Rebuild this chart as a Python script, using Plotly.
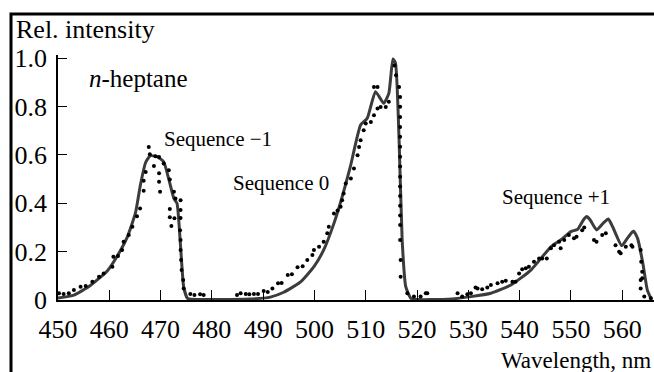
import plotly.graph_objects as go

# Solid curve (calculated spectrum)
fit_wl = [450.0, 453.1, 456.3, 459.6, 461.5, 463.5, 465.1, 466.1, 467.1, 468.0, 469.3, 470.6,
          471.6, 472.6, 473.2, 473.9, 474.5, 475.2, 476.0, 480.0, 487.5, 491.4, 494.0, 497.3,
          499.9, 501.8, 503.8, 505.4, 507.0, 509.0, 510.3, 511.9, 513.5, 514.5, 515.3, 515.8,
          516.5, 517.1, 517.8, 518.8, 520.0, 526.0, 530.5, 534.4, 538.3, 542.2, 546.1, 548.0,
          550.0, 551.3, 552.4, 553.1, 553.8, 555.0, 556.4, 557.3, 558.2, 559.9, 561.0, 562.2,
          563.0, 564.0, 564.9, 565.6]
fit_int = [0.008, 0.02, 0.06, 0.12, 0.18, 0.26, 0.36, 0.48, 0.57, 0.597, 0.593, 0.572,
           0.50, 0.42, 0.40, 0.22, 0.055, 0.008, 0.003, 0.002, 0.004, 0.012, 0.032, 0.075,
           0.138, 0.207, 0.317, 0.427, 0.552, 0.724, 0.752, 0.862, 0.814, 0.855, 0.997, 0.98,
           0.662, 0.248, 0.055, 0.007, 0.002, 0.003, 0.014, 0.028, 0.062, 0.124, 0.22, 0.248,
           0.283, 0.292, 0.33, 0.345, 0.33, 0.29, 0.32, 0.335, 0.30, 0.225, 0.255, 0.285,
           0.255, 0.155, 0.041, 0.007]

# Dotted points (measured spectrum)
exp_wl = [450.2, 451.1, 452.1, 453.1, 454.4, 455.4, 456.7, 458.0, 458.9, 460.6, 460.8, 461.7,
          462.5, 462.8, 463.8, 464.5, 465.4, 466.0, 466.7, 466.7, 467.1, 467.7, 467.9, 469.0,
          469.7, 468.7, 469.7, 469.7, 469.9, 470.6, 471.6, 471.8, 471.8, 471.8, 472.1, 472.6,
          472.9, 472.7, 473.9, 473.9, 473.9, 473.8, 473.9, 473.9, 474.0, 474.1, 474.4, 474.5,
          475.8, 476.6, 477.7, 478.4,
          484.9, 485.6, 486.6, 487.3, 488.2, 489.0, 490.1, 490.9, 491.8, 492.9, 493.6, 494.8,
          495.6, 496.7, 497.7, 498.6, 499.6, 499.9, 500.9, 501.8, 502.5, 502.8, 503.8, 504.5,
          505.1, 505.4, 505.7, 506.1, 507.1, 507.7, 508.4, 508.7, 509.0, 509.6, 510.0, 511.0,
          511.6, 512.3, 511.6, 512.3, 512.9, 513.9, 514.5, 515.6, 515.9, 516.5, 516.7, 516.7,
          516.7, 516.7, 516.7, 516.7, 516.7, 516.7, 516.7, 516.7, 516.7, 516.7, 516.7, 516.7,
          516.7, 516.8, 516.8, 518.1, 519.4, 520.7, 521.7, 522.0,
          527.9, 528.8, 529.8, 530.5, 531.4, 531.8, 532.7, 533.7, 534.4, 535.7, 536.6, 537.3,
          538.6, 539.2, 539.9, 540.5, 541.2, 541.8, 542.8, 543.8, 544.4, 545.3, 546.1, 546.7,
          547.7, 548.0, 548.7, 549.6, 550.6, 551.1, 552.2, 552.6, 554.5, 555.0, 556.1, 556.8,
          558.7, 559.4, 559.7, 560.7, 561.8, 562.0, 563.6, 563.7, 563.9, 563.6, 563.9, 563.6,
          564.3, 565.6]
exp_int = [0.028, 0.025, 0.028, 0.041, 0.055, 0.058, 0.076, 0.096, 0.11, 0.138, 0.179, 0.182,
           0.207, 0.241, 0.269, 0.303, 0.347, 0.379, 0.452, 0.493, 0.53, 0.633, 0.603, 0.595,
           0.592, 0.554, 0.524, 0.489, 0.448, 0.565, 0.537, 0.499, 0.376, 0.342, 0.306, 0.448,
           0.42, 0.338, 0.413, 0.372, 0.339, 0.289, 0.248, 0.207, 0.165, 0.124, 0.083, 0.048,
           0.025, 0.021, 0.024, 0.021,
           0.021, 0.028, 0.025, 0.024, 0.025, 0.025, 0.037, 0.033, 0.048, 0.069, 0.07, 0.103,
           0.107, 0.135, 0.14, 0.165, 0.186, 0.207, 0.22, 0.241, 0.276, 0.303, 0.358, 0.37,
           0.386, 0.413, 0.441, 0.482, 0.503, 0.544, 0.599, 0.633, 0.661, 0.702, 0.73, 0.737,
           0.764, 0.792, 0.881, 0.881, 0.799, 0.799, 0.82, 0.97, 0.93, 0.881, 0.84, 0.80,
           0.757, 0.716, 0.675, 0.634, 0.593, 0.552, 0.51, 0.47, 0.43, 0.39, 0.35, 0.31,
           0.248, 0.165, 0.096, 0.028, 0.014, 0.014, 0.028, 0.028,
           0.028, 0.014, 0.024, 0.028, 0.052, 0.048, 0.044, 0.052, 0.062, 0.069, 0.076, 0.08,
           0.076, 0.076, 0.11, 0.127, 0.131, 0.138, 0.158, 0.172, 0.172, 0.172, 0.214, 0.227,
           0.241, 0.214, 0.248, 0.269, 0.255, 0.262, 0.289, 0.30, 0.248, 0.241, 0.269, 0.276,
           0.227, 0.20, 0.193, 0.22, 0.227, 0.22, 0.207, 0.158, 0.117, 0.083, 0.09, 0.048,
           0.014, 0.007]

x_ticks = [450, 460, 470, 480, 490, 500, 510, 520, 530, 540, 550, 560]
y_ticks = [0, 0.2, 0.4, 0.6, 0.8, 1.0]
y_tick_text = ["0", "0.2", "0.4", "0.6", "0.8", "1.0"]

SERIF = "Liberation Serif, Times New Roman, serif"

fig = go.Figure()
fig.add_trace(go.Scatter(x=fit_wl, y=fit_int, mode="lines",
                         line=dict(color="#3c3c3c", width=3, shape="spline", smoothing=0.5),
                         showlegend=False))
fig.add_trace(go.Scatter(x=exp_wl, y=exp_int, mode="markers",
                         marker=dict(color="black", size=4), showlegend=False))

L, T, W, H = 58, 55, 654, 372
B = 72
pw, ph = W - L, H - T - B

fig.update_layout(
    width=W, height=H,
    margin=dict(l=L, r=0, t=T, b=B),
    paper_bgcolor="white", plot_bgcolor="white",
    font=dict(family=SERIF, color="black", size=26),
    xaxis=dict(range=[450, 566.2], tickvals=x_ticks, ticks="inside", ticklen=10,
               tickwidth=1.2, tickcolor="black", showline=True, linecolor="black",
               linewidth=1.5, showgrid=False, zeroline=False, ticklabelstandoff=5,
               tickfont=dict(family=SERIF, size=26, color="black")),
    yaxis=dict(range=[0, 1.0137], tickvals=y_ticks, ticktext=y_tick_text,
               ticks="inside", ticklen=9, tickwidth=1.2, tickcolor="black",
               showline=True, linecolor="black", linewidth=1.5, showgrid=False,
               zeroline=False, ticklabelstandoff=4,
               tickfont=dict(family=SERIF, size=26, color="black")),
)

def px2paper(px, py):
    return (px - L) / pw, (H - B - py) / ph

ann = [
    dict(text="Rel. intensity", px=14, py=29, xa="left", size=26),
    dict(text="<i>n</i>-heptane", px=87, py=78, xa="left", size=25),
    dict(text="Sequence −1", px=162, py=139, xa="left", size=21),
    dict(text="Sequence 0", px=231, py=183, xa="left", size=21),
    dict(text="Sequence +1", px=500, py=197, xa="left", size=21),
    dict(text="Wavelength, nm", px=653, py=360, xa="right", size=23),
]
for a in ann:
    xp, yp = px2paper(a["px"], a["py"])
    fig.add_annotation(text=a["text"], x=xp, y=yp, xref="paper", yref="paper",
                       xanchor=a["xa"], yanchor="middle", showarrow=False,
                       font=dict(family=SERIF, size=a["size"], color="black"))

x0, y0 = px2paper(11, 14)
x1, y1 = px2paper(680, 400)
fig.add_shape(type="rect", xref="paper", yref="paper", x0=x0, y0=y1, x1=x1, y1=y0,
              line=dict(color="black", width=3))

fig.write_html("out.html")
